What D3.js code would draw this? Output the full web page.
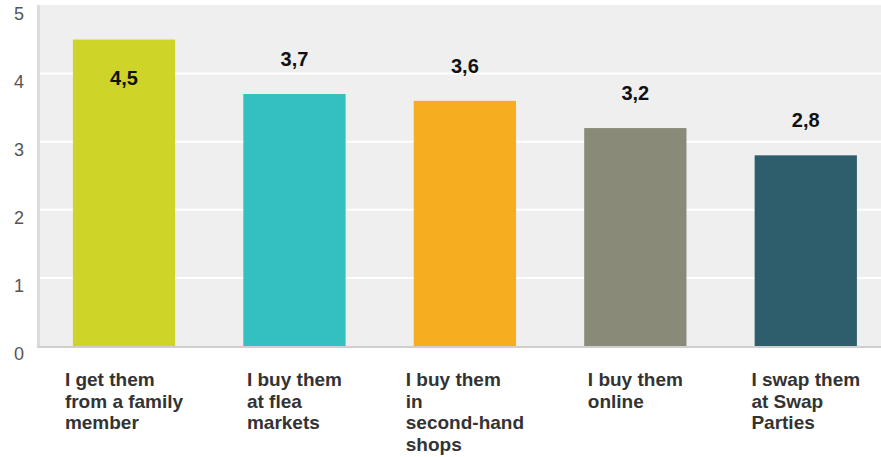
<!DOCTYPE html>
<html>
<head>
<meta charset="utf-8">
<script src="https://cdn.jsdelivr.net/npm/d3@7/dist/d3.min.js"></script>
<style>
  html, body { margin: 0; padding: 0; background: #fff; }
  svg { display: block; }
</style>
</head>
<body>
<svg id="chart" width="881" height="457"></svg>
<script>
// Where second-hand items come from — average rating per source
const categories = [
  ["I get them", "from a family", "member"],
  ["I buy them", "at flea", "markets"],
  ["I buy them", "in", "second-hand", "shops"],
  ["I buy them", "online"],
  ["I swap them", "at Swap", "Parties"]
];
const values = [4.5, 3.7, 3.6, 3.2, 2.8];
const barColors = ["#cfd428", "#34bfc0", "#f6ae20", "#898a78", "#2e5e6b"];
const yTicks = [0, 1, 2, 3, 4, 5];

const svg = d3.select("#chart");
const plot = { left: 40, right: 881, top: 5, bottom: 346 };
const keys = categories.map((c, i) => i);

const x = d3.scaleBand()
  .domain(keys)
  .range([38.8, 891])
  .paddingInner(0.4)
  .paddingOuter(0.2);

const y = d3.scaleLinear()
  .domain([0, 5])
  .range([plot.bottom, 5.5]);

// plot background
svg.append("rect")
  .attr("x", plot.left).attr("y", plot.top)
  .attr("width", plot.right - plot.left)
  .attr("height", plot.bottom - plot.top)
  .attr("fill", "#efefef");

// horizontal gridlines
svg.append("g")
  .selectAll("line")
  .data(yTicks.filter(t => t > 0 && t < 5))
  .join("line")
  .attr("x1", plot.left).attr("x2", plot.right)
  .attr("y1", d => y(d)).attr("y2", d => y(d))
  .attr("stroke", "#ffffff")
  .attr("stroke-width", 2);

// axes lines
svg.append("line")
  .attr("x1", 38.5).attr("x2", 38.5)
  .attr("y1", plot.top).attr("y2", plot.bottom + 2)
  .attr("stroke", "#dcdcdc").attr("stroke-width", 3);
svg.append("line")
  .attr("x1", 37).attr("x2", plot.right)
  .attr("y1", plot.bottom + 1).attr("y2", plot.bottom + 1)
  .attr("stroke", "#cfcfcf").attr("stroke-width", 2);

// y tick labels (placed just below each gridline)
svg.append("g")
  .selectAll("text")
  .data(yTicks)
  .join("text")
  .attr("x", 24)
  .attr("y", d => y(d) + 14)
  .attr("text-anchor", "end")
  .attr("font-family", "Liberation Sans, Arial, sans-serif")
  .attr("font-size", 18)
  .attr("fill", "#555")
  .text(d => d);

// bars
svg.append("g")
  .selectAll("rect")
  .data(values)
  .join("rect")
  .attr("x", (d, i) => x(i))
  .attr("y", d => y(d))
  .attr("width", x.bandwidth())
  .attr("height", d => y(0) - y(d))
  .attr("fill", (d, i) => barColors[i]);

// value labels: above the bar, or inside it when there is no room on top
const fmt = v => d3.format(".1f")(v).replace(".", ",");
svg.append("g")
  .selectAll("text")
  .data(values)
  .join("text")
  .attr("x", (d, i) => x(i) + x.bandwidth() / 2)
  .attr("y", d => (y(d) - 28 - 15 < plot.top) ? y(d) + 45 : y(d) - 28)
  .attr("text-anchor", "middle")
  .attr("font-family", "Liberation Sans, Arial, sans-serif")
  .attr("font-weight", "bold")
  .attr("font-size", 20)
  .attr("fill", "#111")
  .text(d => fmt(d));

// category labels: left-aligned block centred under each bar
const catG = svg.append("g");
categories.forEach((lines, i) => {
  const t = catG.append("text")
    .attr("font-family", "Liberation Sans, Arial, sans-serif")
    .attr("font-weight", "bold")
    .attr("font-size", 19)
    .attr("fill", "#333");
  lines.forEach((ln, j) => {
    t.append("tspan").attr("y", 386 + j * 21.7).text(ln);
  });
  let maxW = 0;
  t.selectAll("tspan").each(function () {
    maxW = Math.max(maxW, this.getComputedTextLength());
  });
  const left = x(i) + x.bandwidth() / 2 - maxW / 2;
  t.selectAll("tspan").attr("x", left);
});
</script>
</body>
</html>
